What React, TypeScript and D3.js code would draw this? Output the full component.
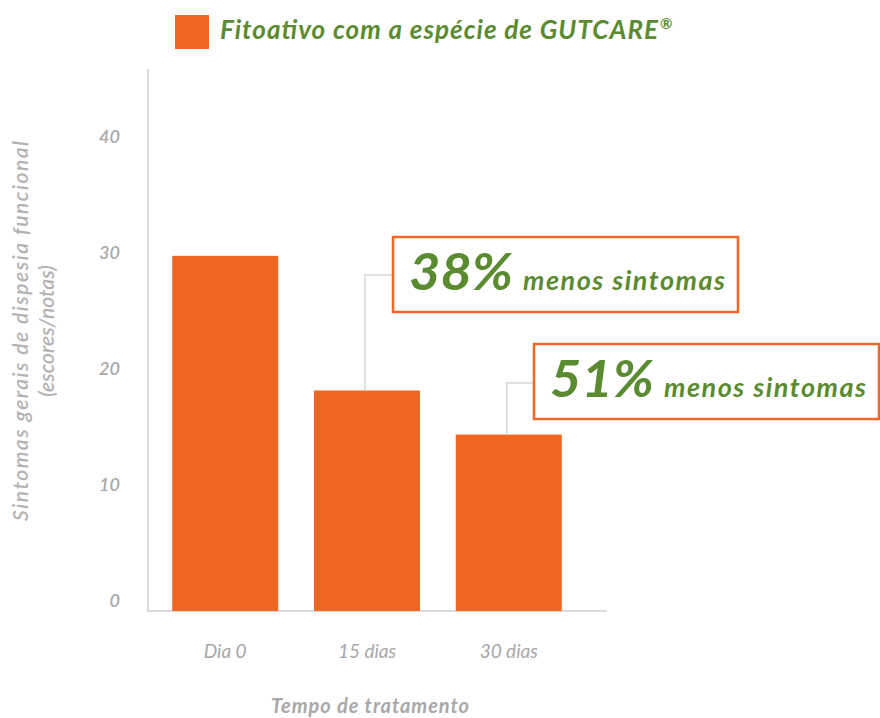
import React from 'react';
import * as d3 from 'd3';

const categories = ['Dia 0', '15 dias', '30 dias'];
const values = [30.6, 19.0, 15.2];
const yTicks = [0, 10, 20, 30, 40];
const seriesName = 'Fitoativo com a espécie de GUTCARE';
const annotations = [
  { index: 1, pct: '38%', text: 'menos sintomas', box: [393, 237], lineY: 275 },
  { index: 2, pct: '51%', text: 'menos sintomas', box: [534, 344], lineY: 383 },
];

const W = 880;
const H = 718;
const ORANGE = '#F06623';
const GREEN = '#5B8B31';
const GRAY = '#A8A8A8';
const FONT = 'Lato, "Open Sans", "DejaVu Sans", sans-serif';

export default function App() {
  const x = d3.scaleBand<string>()
    .domain(categories)
    .range([148, 586])
    .paddingInner(0.252)
    .paddingOuter(0.171);

  const y = d3.scaleLinear().domain([0, 46.7]).range([611, 69]);

  return (
    <svg width={W} height={H} style={{ position: 'absolute', left: 0, top: 0, background: '#fff' }} fontFamily={FONT}>
      {/* legend */}
      <rect x={175} y={15} width={34} height={34} fill={ORANGE} />
      <text x={220} y={39} fontSize={26} fontWeight={700} fontStyle="italic" fill={GREEN} textLength={438} lengthAdjust="spacing">
        {seriesName}
      </text>
      <text x={660} y={29} fontSize={15} fontWeight={700} fill={GREEN}>®</text>

      {/* axes */}
      <line x1={148} x2={148} y1={69} y2={611} stroke="#cfcfcf" strokeWidth={1.5} />
      <line x1={147} x2={607} y1={611} y2={611} stroke="#cfcfcf" strokeWidth={1.5} />

      {yTicks.map(t => (
        <text key={t} x={120} y={y(t) - 4} textAnchor="end" fontSize={18} fontStyle="italic" fontWeight={600} fill={GRAY}>
          {t}
        </text>
      ))}

      {/* bars */}
      {categories.map((c, i) => (
        <rect key={c} x={x(c)} y={y(values[i])} width={x.bandwidth()} height={y(0) - y(values[i])} fill={ORANGE} />
      ))}

      {categories.map(c => (
        <text key={c} x={(x(c) ?? 0) + x.bandwidth() / 2} y={658} textAnchor="middle" fontSize={19} fontStyle="italic" fill={GRAY}>
          {c}
        </text>
      ))}

      <text x={370} y={713} textAnchor="middle" fontSize={20} fontWeight={700} fontStyle="italic" fill={GRAY} textLength={198} lengthAdjust="spacing">
        Tempo de tratamento
      </text>

      <g transform="translate(28,331) rotate(-90)">
        <text x={0} y={0} textAnchor="middle" fontSize={21} fontWeight={600} fontStyle="italic" fill="#B3B3B3" textLength={380} lengthAdjust="spacing">
          Sintomas gerais de dispesia funcional
        </text>
        <text x={0} y={26} textAnchor="middle" fontSize={21} fontWeight={600} fontStyle="italic" fill="#B3B3B3">
          (escores/notas)
        </text>
      </g>

      {/* annotations */}
      {annotations.map(a => {
        const c = categories[a.index];
        const cx = (x(c) ?? 0) + x.bandwidth() / 2 - 2;
        const [bx, by] = a.box;
        return (
          <g key={a.pct}>
            <polyline
              points={`${cx},${y(values[a.index])} ${cx},${a.lineY} ${bx},${a.lineY}`}
              fill="none"
              stroke="#d6d6d6"
              strokeWidth={1.5}
            />
            <rect x={bx} y={by} width={345} height={75} fill="#fff" stroke={ORANGE} strokeWidth={2.5} />
            <text x={bx + 16} y={by + 53} fontSize={51} fontWeight={700} fontStyle="italic" fill={GREEN} textLength={104} lengthAdjust="spacingAndGlyphs">
              {a.pct}
            </text>
            <text x={bx + 130} y={by + 53} fontSize={27} fontWeight={700} fontStyle="italic" fill={GREEN} textLength={202} lengthAdjust="spacing">
              {a.text}
            </text>
          </g>
        );
      })}
    </svg>
  );
}
